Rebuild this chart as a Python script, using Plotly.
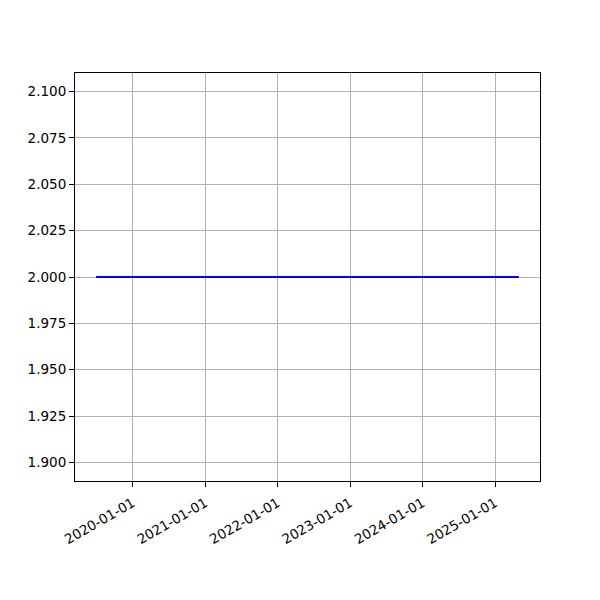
import plotly.graph_objects as go
import pandas as pd

# Data
dates = ["2019-07-01", "2020-01-01", "2021-01-01", "2022-01-01", "2023-01-01",
         "2024-01-01", "2025-01-01", "2025-05-01"]
values = [2.0, 2.0, 2.0, 2.0, 2.0, 2.0, 2.0, 2.0]
x_tick_labels = ["2020-01-01", "2021-01-01", "2022-01-01", "2023-01-01", "2024-01-01", "2025-01-01"]
y_ticks = [1.900, 1.925, 1.950, 1.975, 2.000, 2.025, 2.050, 2.075, 2.100]

d = pd.to_datetime(dates)
span = d.max() - d.min()
x_range = [d.min() - span * 0.05, d.max() + span * 0.05]

fig = go.Figure()
fig.add_trace(go.Scatter(x=d, y=values, mode="lines",
                         line=dict(color="blue", width=2.1), showlegend=False))

font = dict(family="DejaVu Sans", size=13.5, color="black")
fig.update_layout(
    width=600, height=600,
    margin=dict(l=67, r=68, t=65, b=127),
    paper_bgcolor="white", plot_bgcolor="white",
    font=font,
    xaxis=dict(
        range=x_range, type="date",
        tickvals=pd.to_datetime(x_tick_labels), ticktext=x_tick_labels,
        tickangle=-30, ticklabelstandoff=3,
        showgrid=True, gridcolor="#b0b0b0", gridwidth=1.1,
        showline=True, linecolor="black", linewidth=1.1, mirror=True,
        ticks="outside", ticklen=5, tickcolor="black", tickwidth=1.1,
        zeroline=False,
    ),
    yaxis=dict(
        range=[1.89, 2.11],
        tickvals=y_ticks, tickformat=".3f",
        showgrid=True, gridcolor="#b0b0b0", gridwidth=1.1,
        showline=True, linecolor="black", linewidth=1.1, mirror=True,
        ticks="outside", ticklen=5, tickcolor="black", tickwidth=1.1,
        zeroline=False,
    ),
)
fig.write_html("out.html")
